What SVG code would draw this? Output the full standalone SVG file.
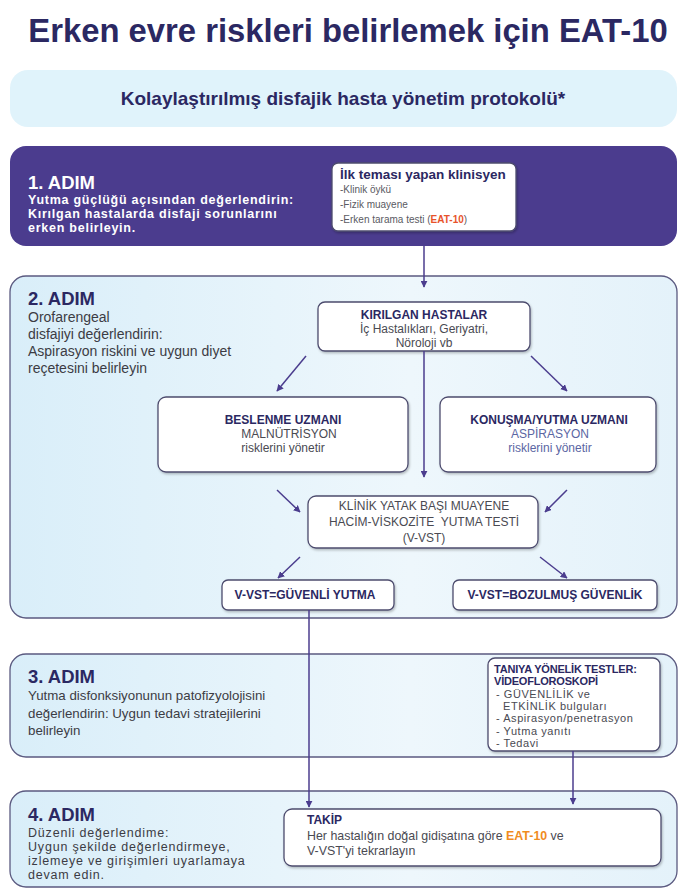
<svg xmlns="http://www.w3.org/2000/svg" width="683" height="895" viewBox="0 0 683 895">
<style>
text{font-family:"Liberation Sans",Arial,Helvetica,sans-serif}
.title{font-size:32.8px;font-weight:bold;fill:#2b2862}
.sub{font-size:19px;font-weight:bold;fill:#2b2862}
.step{fill:url(#stepgrad);stroke:#5b5a80;stroke-width:1.3}
.box{fill:#fff;stroke:#4d4c6e;stroke-width:1.3;filter:url(#sh)}
.h{font-size:19px;font-weight:bold;fill:#2b2862}
.hw{font-size:19px;font-weight:bold;fill:#fff}
.w14{font-size:12.5px;font-weight:bold;fill:#fff;letter-spacing:0.75px}
.t14{font-size:14px;fill:#3c3c44}
.t4{font-size:12.5px;fill:#3c3c44;letter-spacing:0.8px}
.b12{font-size:12px;font-weight:bold;fill:#2b2862}
.r12{font-size:12px;fill:#4a4a52}
.a12{font-size:12px;fill:#5b66a3}
.v11{font-size:11px;fill:#4a4a52;letter-spacing:0.55px}
.vb{font-size:11px;font-weight:bold;fill:#2b2862;letter-spacing:-0.2px}
.l10{font-size:10px;fill:#5a5a62}
.conn{stroke:#4b3d8e;stroke-width:1.5;fill:none}
</style>
<defs>
<linearGradient id="stepgrad" x1="0" y1="0" x2="1" y2="0">
<stop offset="0" stop-color="#d9eef9"/>
<stop offset="0.6" stop-color="#eef7fc"/>
<stop offset="1" stop-color="#e4f2fa"/>
</linearGradient>
<filter id="sh" x="-10%" y="-10%" width="120%" height="130%">
<feDropShadow dx="1" dy="1.5" stdDeviation="1.2" flood-color="#000" flood-opacity="0.25"/>
</filter>
<marker id="arr" viewBox="0 0 10 10" refX="9" refY="5" markerWidth="7" markerHeight="7" markerUnits="userSpaceOnUse" orient="auto">
<path d="M0,0 L10,5 L0,10 z" fill="#4b3d8e"/>
</marker>
</defs>

<g id="title">
<text class="title" x="348" y="42" text-anchor="middle">Erken evre riskleri belirlemek için EAT-10</text>
</g>

<g id="subtitle">
<rect x="10" y="70" width="667" height="57" rx="18" fill="#e0f3fb"/>
<text class="sub" x="343" y="105" text-anchor="middle">Kolaylaştırılmış disfajik hasta yönetim protokolü*</text>
</g>

<g id="step1">
<rect x="10" y="146" width="667" height="100" rx="16" fill="#4b3c8e"/>
<text class="hw" x="28" y="189" textLength="67" lengthAdjust="spacingAndGlyphs">1. ADIM</text>
<text class="w14" x="28" y="204">Yutma güçlüğü açısından değerlendirin:</text>
<text class="w14" x="28" y="218">Kırılgan hastalarda disfaji sorunlarını</text>
<text class="w14" x="28" y="232">erken belirleyin.</text>
</g>

<g id="clinician">
<rect class="box" x="332" y="163" width="184" height="68" rx="6" stroke="none"/>
<text x="340" y="179" style="font-size:13.5px;font-weight:bold;fill:#2b2862">İlk teması yapan klinisyen</text>
<text class="l10" x="340" y="193">-Klinik öykü</text>
<text class="l10" x="340" y="208">-Fizik muayene</text>
<text class="l10" x="340" y="223">-Erken tarama testi (<tspan style="font-weight:bold;fill:#e8532b">EAT-10</tspan>)</text>
</g>

<g id="step2">
<rect class="step" x="10" y="276" width="667" height="342" rx="16"/>
<text class="h" x="28" y="305" textLength="67" lengthAdjust="spacingAndGlyphs">2. ADIM</text>
<text class="t14" x="28" y="322">Orofarengeal</text>
<text class="t14" x="28" y="339">disfajiyi değerlendirin:</text>
<text class="t14" x="28" y="356">Aspirasyon riskini ve uygun diyet</text>
<text class="t14" x="28" y="373">reçetesini belirleyin</text>
</g>

<g id="fragile">
<rect class="box" x="318" y="302" width="212" height="49" rx="7"/>
<text class="b12" x="424" y="319" text-anchor="middle">KIRILGAN HASTALAR</text>
<text class="r12" x="424" y="333" text-anchor="middle">İç Hastalıkları, Geriyatri,</text>
<text class="r12" x="424" y="347" text-anchor="middle">Nöroloji vb</text>
</g>

<g id="dietitian">
<rect class="box" x="158" y="397" width="250" height="75" rx="8"/>
<text class="b12" x="283" y="424" text-anchor="middle">BESLENME UZMANI</text>
<text class="r12" x="289" y="438" text-anchor="middle">MALNÜTRİSYON</text>
<text class="r12" x="283" y="452" text-anchor="middle">risklerini yönetir</text>
</g>

<g id="speech">
<rect class="box" x="440" y="397" width="216" height="75" rx="8"/>
<text class="b12" x="549" y="424" text-anchor="middle">KONUŞMA/YUTMA UZMANI</text>
<text class="a12" x="550" y="438" text-anchor="middle">ASPİRASYON</text>
<text class="a12" x="550" y="452" text-anchor="middle">risklerini yönetir</text>
</g>

<g id="bedside">
<rect class="box" x="308" y="496" width="230" height="52" rx="8"/>
<text class="r12" x="424" y="510" text-anchor="middle">KLİNİK YATAK BAŞI MUAYENE</text>
<text class="r12" x="424" y="526" text-anchor="middle" xml:space="preserve">HACİM-VİSKOZİTE  YUTMA TESTİ</text>
<text class="r12" x="424" y="542" text-anchor="middle">(V-VST)</text>
</g>

<g id="safe">
<rect class="box" x="222" y="580" width="172" height="30" rx="6"/>
<text class="b12" x="305" y="599" text-anchor="middle">V-VST=GÜVENLİ YUTMA</text>
</g>

<g id="unsafe">
<rect class="box" x="453" y="580" width="204" height="30" rx="6"/>
<text class="b12" x="555" y="599" text-anchor="middle">V-VST=BOZULMUŞ GÜVENLİK</text>
</g>

<g id="step3">
<rect class="step" x="10" y="654" width="667" height="103" rx="16"/>
<text class="h" x="28" y="683" textLength="67" lengthAdjust="spacingAndGlyphs">3. ADIM</text>
<text class="t14" x="28" y="700" style="font-size:13.3px">Yutma disfonksiyonunun patofizyolojisini</text>
<text class="t14" x="28" y="718" style="font-size:13.3px">değerlendirin: Uygun tedavi stratejilerini</text>
<text class="t14" x="28" y="735" style="font-size:13.3px">belirleyin</text>
</g>

<g id="videofluoroscopy">
<rect class="box" x="488" y="658" width="172" height="93" rx="7"/>
<text class="vb" x="494" y="673">TANIYA YÖNELİK TESTLER:</text>
<text class="vb" x="494" y="685">VİDEOFLOROSKOPİ</text>
<text class="v11" x="496" y="697.5">- GÜVENLİLİK ve</text>
<text class="v11" x="503" y="710">ETKİNLİK bulguları</text>
<text class="v11" x="496" y="722">- Aspirasyon/penetrasyon</text>
<text class="v11" x="496" y="734.5">- Yutma yanıtı</text>
<text class="v11" x="496" y="747">- Tedavi</text>
</g>

<g id="step4">
<rect class="step" x="10" y="791" width="667" height="96" rx="16"/>
<text class="h" x="28" y="821" textLength="67" lengthAdjust="spacingAndGlyphs">4. ADIM</text>
<text class="t4" x="28" y="837">Düzenli değerlendime:</text>
<text class="t4" x="28" y="851">Uygun şekilde değerlendirmeye,</text>
<text class="t4" x="28" y="865">izlemeye ve girişimleri uyarlamaya</text>
<text class="t4" x="28" y="879">devam edin.</text>
</g>

<g id="followup">
<rect class="box" x="284" y="809" width="377" height="57" rx="8"/>
<text class="b12" x="307" y="824">TAKİP</text>
<text class="r12" x="307" y="840" style="font-size:12.4px">Her hastalığın doğal gidişatına göre <tspan style="font-weight:bold;fill:#f08c1e">EAT-10</tspan> ve</text>
<text class="r12" x="307" y="855" style="font-size:12.4px">V-VST'yi tekrarlayın</text>
</g>

<g id="connectors">
<line class="conn" x1="424" y1="246" x2="424" y2="287" marker-end="url(#arr)"/>
<line class="conn" x1="306" y1="356" x2="277" y2="391" marker-end="url(#arr)"/>
<line class="conn" x1="531" y1="356" x2="567" y2="391" marker-end="url(#arr)"/>
<line class="conn" x1="424" y1="351" x2="424" y2="477" marker-end="url(#arr)"/>
<line class="conn" x1="277" y1="490" x2="300" y2="512" marker-end="url(#arr)"/>
<line class="conn" x1="567" y1="490" x2="545" y2="512" marker-end="url(#arr)"/>
<line class="conn" x1="300" y1="557" x2="278" y2="578" marker-end="url(#arr)"/>
<line class="conn" x1="540" y1="557" x2="567" y2="578" marker-end="url(#arr)"/>
<line class="conn" x1="309" y1="610" x2="309" y2="807" marker-end="url(#arr)"/>
<line class="conn" x1="573" y1="751" x2="573" y2="804" marker-end="url(#arr)"/>
</g>
</svg>
